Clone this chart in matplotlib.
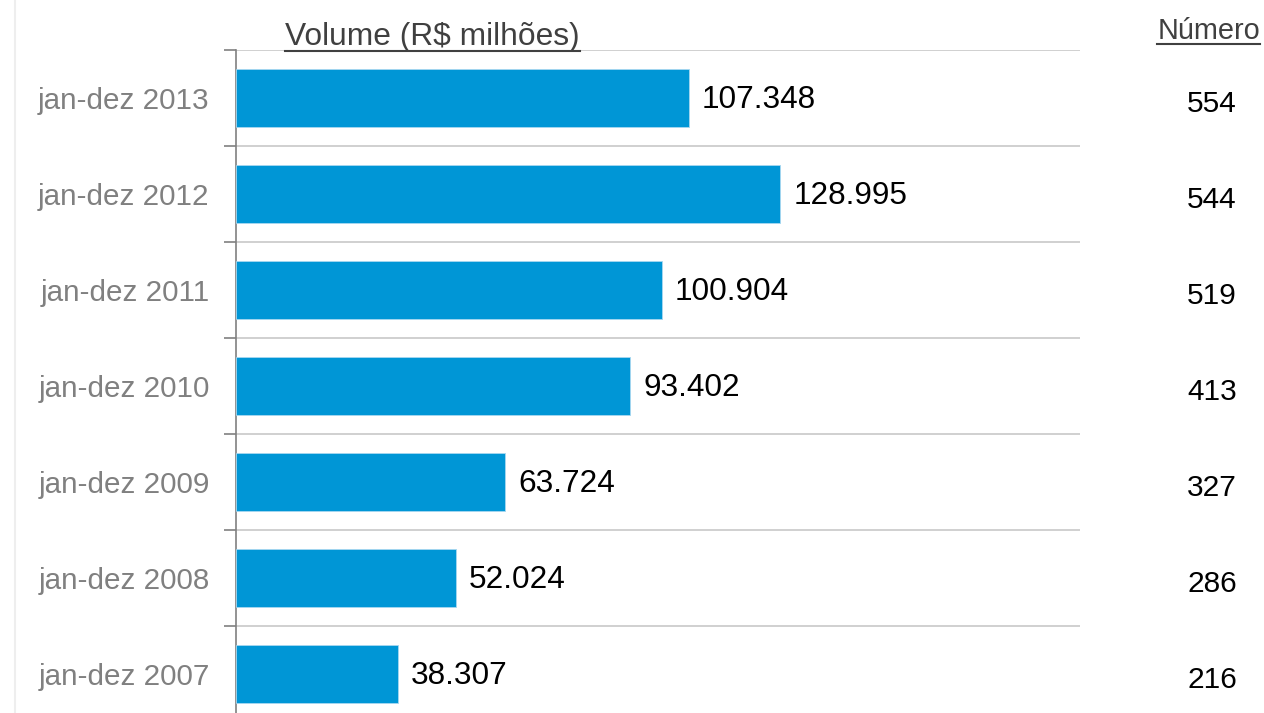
import matplotlib
matplotlib.use('Agg')
import matplotlib.pyplot as plt
from matplotlib.lines import Line2D
import numpy as np

plt.rcParams['font.family'] = ['Liberation Sans', 'DejaVu Sans']

categories = ['jan-dez 2013', 'jan-dez 2012', 'jan-dez 2011', 'jan-dez 2010',
              'jan-dez 2009', 'jan-dez 2008', 'jan-dez 2007']
volume = [107.348, 128.995, 100.904, 93.402, 63.724, 52.024, 38.307]
volume_labels = ['107.348', '128.995', '100.904', '93.402', '63.724', '52.024', '38.307']
numero = [554, 544, 519, 413, 327, 286, 216]

W, H = 1264, 713
fig = plt.figure(figsize=(W / 100, H / 100), dpi=100)
# axes area in pixels: x 236..1080, y 50..722 (runs off the bottom)
ax = fig.add_axes([236 / W, (H - 722) / H, (1080 - 236) / W, (722 - 50) / H])

bar_col = '#0096d6'
grey = '#808080'
y = np.arange(len(categories))
ax.barh(y, volume, height=0.6, color=bar_col, edgecolor='#a8d8f0', linewidth=0.6, zorder=3)
ax.set_xlim(0, 200)
ax.set_ylim(len(categories) - 0.5, -0.5)

# boundary grid lines
bounds = np.arange(-0.5, len(categories), 1.0)
for b in bounds:
    ax.axhline(b, color='#c8c8c8', lw=1.2, zorder=1)

for s in ['top', 'right', 'bottom']:
    ax.spines[s].set_visible(False)
ax.spines['left'].set_color(grey)
ax.spines['left'].set_linewidth(1.2)
ax.set_xticks([])
ax.set_yticks(bounds)
ax.set_yticklabels([])
ax.tick_params(axis='y', length=9, width=1.2, color=grey, direction='out')
ax.set_yticks(y, minor=True)
ax.set_yticklabels(categories, minor=True, fontsize=21.3, color=grey)
ax.tick_params(axis='y', which='minor', length=0, pad=19)

for yi, v, lab in zip(y, volume, volume_labels):
    ax.annotate(lab, (v, yi), xytext=(13, -2), textcoords='offset pixels',
                ha='left', va='center', fontsize=22.7, color='black')

for yi, n in zip(y, numero):
    ax.annotate(str(n), (1.0, yi), xycoords=('figure fraction', 'data'),
                xytext=(-52, -6), textcoords='offset pixels',
                ha='center', va='center', fontsize=21.5, color='black')

# faint frame line on the left
fig.add_artist(Line2D([15 / W, 15 / W], [0, 1], color='#eeeeee', lw=1.5))

t1 = fig.text(285 / W, 1 - 37 / H, 'Volume (R$ milhões)', ha='left', va='center',
              fontsize=22.9, color='#404040')
t2 = fig.text(1260 / W, 1 - 31 / H, 'Número', ha='right', va='center',
              fontsize=20.8, color='#404040')

fig.canvas.draw()
r = fig.canvas.get_renderer()
for t in (t1, t2):
    bb = t.get_window_extent(r)
    yy = (bb.y0 + 1) / H
    fig.add_artist(Line2D([bb.x0 / W, bb.x1 / W], [yy, yy], color='#404040', lw=1.5))

fig.savefig('out.png', dpi=100)
